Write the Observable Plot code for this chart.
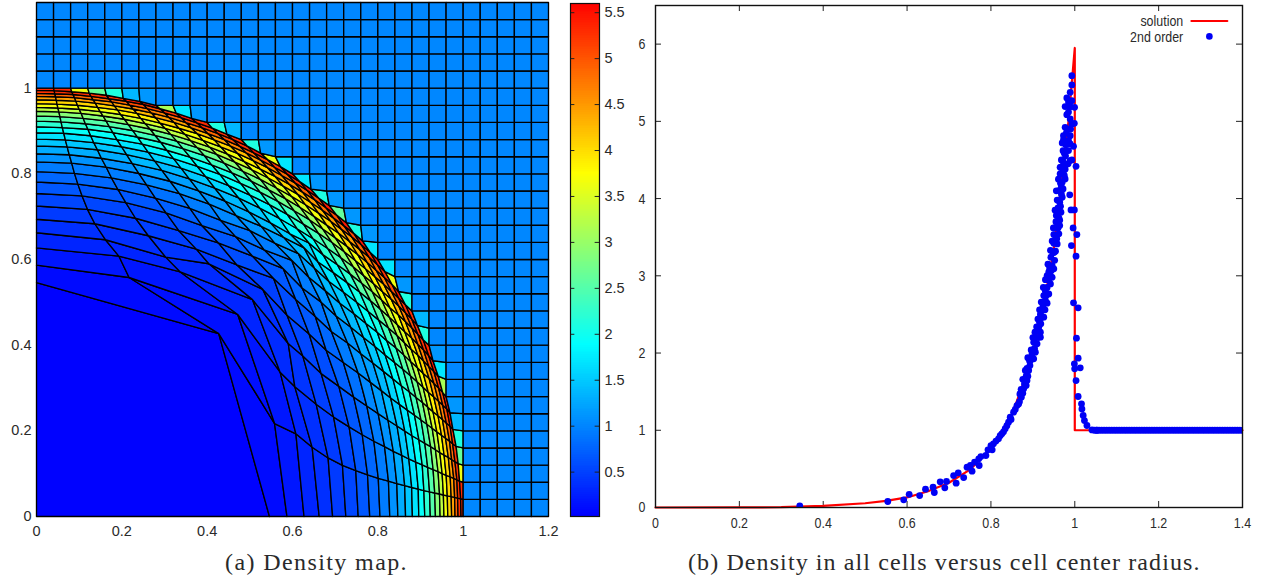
<!DOCTYPE html>
<html>
<head>
<meta charset="utf-8">
<script src="https://cdn.jsdelivr.net/npm/d3@7"></script>
<script src="https://cdn.jsdelivr.net/npm/@observablehq/plot@0.6"></script>
<style>
html,body{margin:0;padding:0;background:#fff;}
#page{position:relative;width:1263px;height:578px;overflow:hidden;}
#page svg{position:absolute;top:0;background:transparent;}
#page svg text{font-family:"Liberation Sans",sans-serif !important;font-variant:normal !important;font-size:14.5px !important;}
.cap{position:absolute;top:549px;font-family:"Liberation Serif",serif;font-size:24px;color:#2a2a2a;white-space:nowrap;}
</style>
</head>
<body>
<div id="page">
<div class="cap" style="left:225px;letter-spacing:1.4px">(a) Density map.</div>
<div class="cap" style="left:688px;letter-spacing:1.1px">(b) Density in all cells versus cell center radius.</div>
</div>
<script>
// ---- Panel (a): mesh ----
const gridStep = 0.04, gridCount = 30, frontIndex = 25;
// Radius of each mesh node; row = larger lattice index, entry = smaller lattice index.
const radiusRows = [
[.546,.604],
[.587,.600,.667],
[.627,.633,.663,.716],
[.6625,.666,.677,.715,.750],
[.694,.697,.706,.728,.752,.786],
[.725,.727,.734,.746,.768,.791,.818],
[.754,.756,.762,.771,.782,.803,.820,.846],
[.781,.782,.787,.794,.804,.815,.834,.848,.868],
[.805,.806,.810,.816,.825,.834,.844,.858,.872,.887],
[.828,.829,.832,.836,.843,.850,.859,.868,.878,.888,.903],
[.847,.848,.850,.854,.860,.866,.873,.882,.890,.899,.908,.917],
[.865,.866,.868,.871,.875,.881,.887,.894,.902,.910,.918,.926,.935],
[.881,.882,.883,.886,.890,.895,.900,.907,.913,.921,.928,.935,.943,.949],
[.896,.897,.898,.900,.904,.908,.913,.918,.924,.931,.937,.944,.950,.956,.962],
[.910,.910,.912,.914,.917,.921,.925,.930,.935,.940,.946,.951,.957,.963,.969,.975],
[.923,.923,.924,.926,.929,.932,.936,.940,.945,.949,.954,.959,.964,.970,.975,.980,.985],
[.935,.935,.936,.938,.940,.943,.946,.949,.953,.957,.961,.966,.971,.976,.981,.986,.990,.995],
[.946,.946,.947,.948,.950,.952,.955,.958,.961,.965,.970,.974,.978,.982,.987,.991,.995,.999],
[.955,.955,.956,.957,.959,.961,.963,.966,.970,.973,.977,.981,.984,.988,.992,.996,.999],
[.964,.964,.965,.966,.968,.970,.972,.975,.977,.980,.984,.987,.990,.994,.997,1.0],
[.973,.973,.974,.975,.976,.978,.980,.982,.984,.987,.990,.993,.996,.998],
[.981,.981,.982,.982,.984,.985,.987,.989,.991,.993,.996,.998],
[.988,.988,.989,.989,.990,.992,.994,.995,.997,.998],
[.995,.995,.995,.996,.997,.997,.999,1.0],
[1.0]
];
const nodeOverrides = [[2,1,.558,.217],[3,2,.571,.337],[4,3,.59,.404],[3,1,.608,.193]];
const ringEdges = [1,1.5,2,2.5,3,3.5,4,4.5,5,5.5,6,6.5,7,7.5,8,8.5,9,9.5,10,10.5,11,11.5,12,12.5,13,13.5,14,14.5,15,15.5,16,16.5,17,17.5,18,18.5,19,19.5,20,20.5,21,21.5,22,22.5,23,23.5,24];
const ringDensity = [.03,.05,.09,.13,.18,.23,.28,.32,.36,.40,.44,.48,.53,.58,.65,.71,.77,.84,.92,1.0,1.08,1.17,1.27,1.37,1.47,1.57,1.68,1.8,1.92,2.05,2.2,2.35,2.5,2.68,2.86,3.05,3.25,3.45,3.65,3.85,4.05,4.25,4.45,4.65,4.85,5.05,5.25,5.45];
// Density of cells that straddle the front, looked up by the size of the cell
const crossingEdges = [.0003,.00035,.0004,.00047,.00055,.00067,.0008,.00105,.0013,.0015];
const crossingDensity = [5.3,4.8,4.2,3.6,3.1,2.6,2.1,1.7,1.35,1.12,1.0];
const meshXTicks = [0,0.2,0.4,0.6,0.8,1,1.2];
const meshYTicks = [0,0.2,0.4,0.6,0.8,1];
const colorTicks = [0.5,1,1.5,2,2.5,3,3.5,4,4.5,5,5.5];
const colorDomain = [0.017,1.878,3.739,5.6];
const colorRange = ["#0000ff","#00ffff","#ffff00","#ff0000"];

// ---- Panel (b): values ----
const solutionR =   [0,.2,.3,.4,.5,.55,.6,.65,.7,.75,.8,.85,.9,.93,.95,.97,.985,1,1,1.4];
const solutionRho = [0,.001,.004,.02,.055,.085,.13,.21,.32,.49,.76,1.2,1.95,2.75,3.35,4.3,5.0,5.95,1,1];
const cellPoints = [
[.344,.02],[.554,.078],[.592,.10],[.605,.17],[.630,.155],[.644,.237],[.662,.263],[.665,.194],[.679,.332],[.690,.255],[.694,.337],[.711,.414],[.717,.315],[.722,.449],[.735,.388],[.743,.522],[.751,.544],[.755,.47],[.761,.587],[.771,.63],[.772,.544],[.776,.66],[.788,.673],[.793,.747],[.803,.747],[.806,.824],[.818,.889],[.826,.954],[.834,1.02],[.842,1.105],[.846,1.17],[.854,1.234],[.862,1.32],[.868,1.37],
[.8725,1.428],[.878,1.536],[.886,1.644],[.882,1.774],[.890,1.774],[.894,1.903],[.902,1.925],[.898,1.989],[.906,2.011],[.902,2.140],[.910,2.119],[.918,2.205],[.910,2.291],[.918,2.270],[.919,2.378],[.914,2.335],[.926,2.464],[.922,2.550],[.934,2.645],[.926,2.744],[.938,2.766],[.942,2.895],[.942,3.003],[.934,3.003],[.950,3.090],[.946,3.133],[.943,3.241],[.954,3.318],[.958,3.413],[.954,3.521],[.962,3.543],[.950,3.534],[.964,3.651],[.958,3.802],[.967,3.823],[.964,3.953],[.970,4.017],[.962,4.104],[.972,4.125],[.970,4.212],[.977,4.255],[.973,4.363],[.967,4.406],[.977,4.427],
[.876,1.48],[.884,1.58],[.888,1.70],[.893,1.84],[.897,1.93],[.904,2.06],[.907,2.20],[.913,2.20],[.916,2.40],[.921,2.46],[.924,2.60],[.930,2.68],[.930,2.80],[.934,2.85],[.938,2.95],[.946,2.98],[.940,3.10],[.952,3.20],[.948,3.30],[.950,3.42],[.957,3.48],[.960,3.62],[.955,3.70],[.962,3.75],[.960,3.88],[.966,3.90],[.968,4.06],[.966,4.20],[.975,4.30],
[.800,.80],[.812,.86],[.822,.93],[.830,.98],[.838,1.06],[.848,1.14],[.858,1.27],[.866,1.34],[.869,1.47],[.872,1.53],[.880,1.60],[.876,1.66],[.884,1.70],[.886,1.80],[.892,1.90],[.888,1.94],[.896,2.04],[.900,2.0],[.900,2.2],[.905,2.27],[.909,2.34],[.912,2.44],[.918,2.5],[.916,2.56],[.920,2.66],[.929,2.56],[.925,2.85],[.933,2.75],[.930,2.95],[.938,3.05],[.936,3.15],[.944,3.07],[.942,3.33],[.950,3.3],[.946,3.45],[.952,3.62],[.949,3.62],[.956,3.78],[.953,3.85],[.964,3.72],[.958,3.98],[.962,3.98],[.956,4.1],[.968,4.15],[.961,4.25],[.965,4.32],[.972,4.48],[.968,4.5],[.978,4.55],[.984,4.45],[.972,4.62],[.978,4.7],[.970,4.72],
[.988,4.048],[.991,3.853],[.999,3.853],[.996,3.620],[1.005,3.534],[.992,3.392],[1.003,3.254],[.997,2.650],[1.008,2.585],[1.004,2.192],[1.008,1.933],[.999,1.860],[1.013,1.808],[.9997,1.795],[1.003,1.644],[1.008,1.437],[1.016,1.342],[1.017,1.277],[1.020,1.191],[1.023,1.126],[1.029,1.062],[1.041,1.005],[1.053,1.0],
[.993,5.592],[.993,5.471],[.989,5.376],[.981,5.303],[.993,5.268],[.977,5.191],[.9995,5.182],[.989,5.19],[.981,5.087],[.989,5.031],[.9989,4.975],[.977,4.923],[.993,4.966],[.973,4.815],[.973,4.759],[.989,4.815],[.985,4.751],[.997,4.677],[.989,4.708],[.985,4.621],[.975,4.587],[.989,4.492],[.965,4.405],[1.003,4.418],[.993,4.5],[.977,4.38],[.985,5.25],[.985,5.12],[.986,4.9],[.980,4.85],[.980,4.7],[.99,4.9]
];
const outerRadii = [1.047,1.052,1.058,1.064,1.07,1.076,1.082,1.088,1.094,1.1,1.106,1.112,1.118,1.124,1.13,1.136,1.142,1.148,1.154,1.16,1.166,1.172,1.178,1.184,1.19,1.196,1.202,1.208,1.214,1.22,1.226,1.232,1.238,1.244,1.25,1.256,1.262,1.268,1.274,1.28,1.286,1.292,1.298,1.304,1.31,1.316,1.322,1.328,1.334,1.34,1.346,1.352,1.358,1.364,1.37,1.376,1.382,1.388,1.394,1.4];
const outerDensity = 1;
const radiusTicks = [0,0.2,0.4,0.6,0.8,1,1.2,1.4];
const densityTicks = [0,1,2,3,4,5,6];

// ---- Build mesh polygons from the tables ----
function node(i, j) {
  for (const [a, b, x, y] of nodeOverrides) {
    if (i === a && j === b) return [x, y];
    if (i === b && j === a) return [y, x];
  }
  const row = radiusRows[Math.max(i, j) - 1];
  const r = row ? row[Math.min(i, j)] : undefined;
  if (r === undefined) return [i * gridStep, j * gridStep];
  const t = Math.atan2(j, i);
  return [r * Math.cos(t), r * Math.sin(t)];
}
const ring = d3.scaleThreshold().domain(ringEdges).range(ringDensity);
const crossing = d3.scaleThreshold().domain(crossingEdges).range(crossingDensity);
const cellRows = [];
for (let i = 0; i < gridCount; i++) for (let j = 0; j < gridCount; j++) {
  const corners = [[i,j],[i+1,j],[i+1,j+1],[i,j+1],[i,j]];
  const straddles = corners.some(([a,b]) => Math.hypot(a,b) > frontIndex);
  const rho = straddles
    ? crossing(Math.abs(d3.polygonArea(corners.slice(0,4).map(([a,b]) => node(a,b)))))
    : ring(Math.hypot(i + .5, j + .5));
  corners.forEach(([a,b]) => { const [x,y] = node(a,b); cellRows.push({cell:i*100+j, x, y, rho}); });
}
const colorScale = {type:"linear", domain:colorDomain, range:colorRange, interpolate:"rgb"};
const ink = "#2a2a2a";

// Density map
const meshPlot = Plot.plot({
  width:560, height:545, marginLeft:36, marginRight:12, marginTop:2, marginBottom:29,
  style:{background:"transparent", overflow:"visible"},
  x:{domain:[0,1.2]}, y:{domain:[0,1.2]}, color:colorScale,
  marks:[
    Plot.line(cellRows,{x:"x",y:"y",z:"cell",fill:"rho",stroke:"#000",strokeWidth:1.35,curve:"linear"}),
    Plot.axisX({ticks:meshXTicks,tickSize:0,tickPadding:9,tickFormat:String,label:null,color:ink}),
    Plot.axisY({ticks:meshYTicks,tickSize:0,tickPadding:5,tickFormat:String,label:null,color:ink})
  ]
});
meshPlot.style.left = "0px";
document.getElementById("page").append(meshPlot);

// Colour bar
const levels = d3.range(colorDomain[0],5.6,0.02);
const barPlot = Plot.plot({
  width:70, height:545, marginLeft:10, marginRight:31, marginTop:3, marginBottom:29,
  style:{background:"transparent", overflow:"visible"},
  x:{domain:[0,1],axis:null}, y:{domain:[colorDomain[0],5.6]}, color:colorScale,
  marks:[
    Plot.rect(levels,{x1:0,x2:1,y1:d=>d,y2:d=>Math.min(5.6,d+0.03),fill:d=>d,shapeRendering:"crispEdges"}),
    Plot.ruleY(colorTicks,{x1:0,x2:0.15,stroke:"#222"}),
    Plot.ruleY(colorTicks,{x1:0.85,x2:1,stroke:"#222"}),
    Plot.frame({stroke:"#111",strokeWidth:1.2}),
    Plot.axisY({anchor:"right",ticks:colorTicks,tickSize:0,tickPadding:5,tickFormat:String,label:null,color:ink})
  ]
});
barPlot.style.left = "560px";
document.getElementById("page").append(barPlot);

// Density versus radius
const solution = solutionR.map((r,k)=>({r,rho:solutionRho[k]}));
const dots = cellPoints.map(([r,rho])=>({r,rho})).concat(outerRadii.map(r=>({r,rho:outerDensity})));
const xTickLen = 0.078, yTickLen = 0.0143;
const curvePlot = Plot.plot({
  width:663, height:545, marginLeft:55, marginRight:21, marginTop:5, marginBottom:38,
  style:{background:"transparent", overflow:"visible"},
  x:{domain:[0,1.4]}, y:{domain:[0,6.5]},
  marks:[
    Plot.ruleX(radiusTicks,{y1:0,y2:xTickLen,stroke:"#222"}),
    Plot.ruleX(radiusTicks,{y1:6.5,y2:6.5-xTickLen,stroke:"#222"}),
    Plot.ruleY(densityTicks,{x1:0,x2:yTickLen,stroke:"#222"}),
    Plot.ruleY(densityTicks,{x1:1.4,x2:1.4-yTickLen,stroke:"#222"}),
    Plot.line(solution,{x:"r",y:"rho",stroke:"#ff0000",strokeWidth:2.2,curve:"linear"}),
    Plot.dot(dots,{x:"r",y:"rho",r:3.4,fill:"#0000f5",stroke:"none",clip:true}),
    Plot.frame({stroke:"#111",strokeWidth:1.4}),
    Plot.axisX({ticks:radiusTicks,tickSize:0,tickPadding:9,tickFormat:String,label:null,color:ink}),
    Plot.axisY({ticks:densityTicks,tickSize:0,tickPadding:10,tickFormat:String,label:null,color:ink}),
    Plot.text(["solution"],{x:1.2586,y:6.30,text:d=>d,textAnchor:"end",fill:ink}),
    Plot.text(["2nd order"],{x:1.2586,y:6.09,text:d=>d,textAnchor:"end",fill:ink}),
    Plot.line([{r:1.278,rho:6.30},{r:1.364,rho:6.30}],{x:"r",y:"rho",stroke:"#ff0000",strokeWidth:2}),
    Plot.dot([{r:1.321,rho:6.10}],{x:"r",y:"rho",r:3.3,fill:"#0000f5",stroke:"none"})
  ]
});
curvePlot.style.left = "600px";
document.getElementById("page").append(curvePlot);
// The right panel's lettering is condensed in the reference
curvePlot.querySelectorAll("text").forEach(t => {
  t.style.setProperty("font-size","15.5px","important");
  const w = t.getComputedTextLength();
  t.setAttribute("textLength", (w * 0.8).toFixed(1));
  t.setAttribute("lengthAdjust","spacingAndGlyphs");
});
</script>
</body>
</html>
